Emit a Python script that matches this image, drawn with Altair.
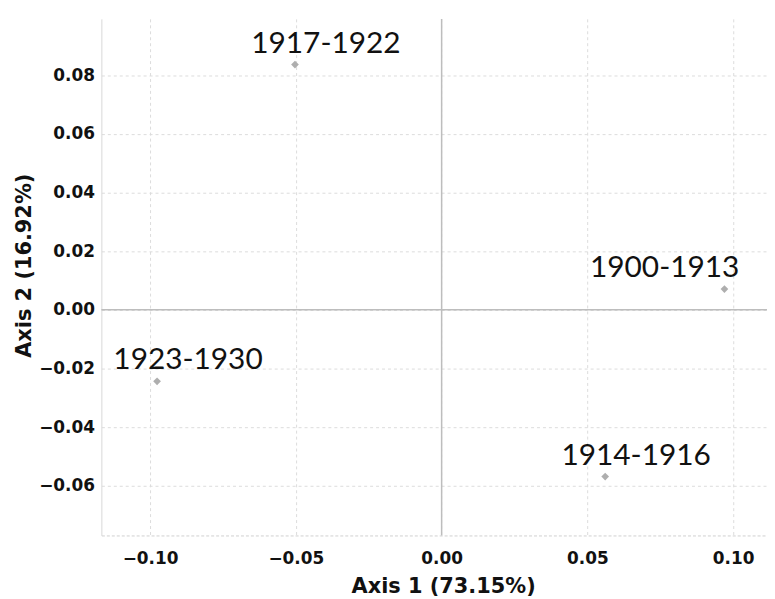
import altair as alt
import pandas as pd

labels = ["1917-1922", "1900-1913", "1923-1930", "1914-1916"]
axis1 = [-0.0503, 0.0970, -0.0976, 0.0561]
axis2 = [0.0837, 0.0071, -0.0244, -0.0569]

x_ticks = [-0.10, -0.05, 0.00, 0.05, 0.10]
y_ticks = [-0.06, -0.04, -0.02, 0.00, 0.02, 0.04, 0.06, 0.08]
x_domain = [-0.1167, 0.1116]
y_domain = [-0.0770, 0.0993]

df = pd.DataFrame({"label": labels, "x": axis1, "y": axis2})
zero = pd.DataFrame({"v": [0.0]})

FONT = "DejaVu Sans"

xs = alt.Scale(domain=x_domain, nice=False, zero=False)
ys = alt.Scale(domain=y_domain, nice=False, zero=False)

base = alt.Chart(df)

points = base.mark_point(shape="diamond", filled=True, color="#aeaeae", size=60, opacity=1).encode(
    x=alt.X("x:Q", scale=xs, title="Axis 1 (73.15%)",
            axis=alt.Axis(values=x_ticks, format=".2f", grid=True, gridDash=[3, 3],
                          gridColor="#dcdcdc", ticks=False, domainColor="#d0d0d0",
                          domainDash=[3, 2], labelFont=FONT, labelFontWeight="bold",
                          labelFontSize=17, labelColor="#111", labelPadding=15,
                          titleFont=FONT, titleFontWeight="bold", titleFontSize=21,
                          titleColor="#111", titlePadding=9, titleX=344)),
    y=alt.Y("y:Q", scale=ys, title="Axis 2 (16.92%)",
            axis=alt.Axis(values=y_ticks, format=".2f", grid=True, gridDash=[3, 3],
                          gridColor="#dcdcdc", ticks=False, domainColor="#d8d8d8",
                          labelFont=FONT, labelFontWeight="bold", labelFontSize=17,
                          labelColor="#111", labelPadding=7,
                          titleFont=FONT, titleFontWeight="bold", titleFontSize=21,
                          titleColor="#111", titleX=-67, titleY=248,
                          titleBaseline="bottom", titleAngle=270)),
)

text_left = base.transform_filter("datum.x < 0.09").mark_text(
    font="Lato", fontSize=30, baseline="bottom", align="left",
    dx=-44, dy=-6, color="#111").encode(
    x=alt.X("x:Q", scale=xs), y=alt.Y("y:Q", scale=ys), text="label:N")

text_right = base.transform_filter("datum.x >= 0.09").mark_text(
    font="Lato", fontSize=30, baseline="bottom", align="right",
    dx=15, dy=-6, color="#111").encode(
    x=alt.X("x:Q", scale=xs), y=alt.Y("y:Q", scale=ys), text="label:N")

vline = alt.Chart(zero).mark_rule(color="#bdbdbd", strokeWidth=1.5).encode(x=alt.X("v:Q", scale=xs))
hline = alt.Chart(zero).mark_rule(color="#bdbdbd", strokeWidth=1.5).encode(y=alt.Y("v:Q", scale=ys))

chart = alt.layer(vline, hline, points, text_left, text_right).properties(
    width=670, height=520,
    padding={"left": 94, "top": 9, "right": 0, "bottom": 62},
    autosize=alt.AutoSizeParams(type="none"),
).configure_view(stroke=None)

chart.save("out.html", embed_options={"renderer": "svg", "actions": False})
